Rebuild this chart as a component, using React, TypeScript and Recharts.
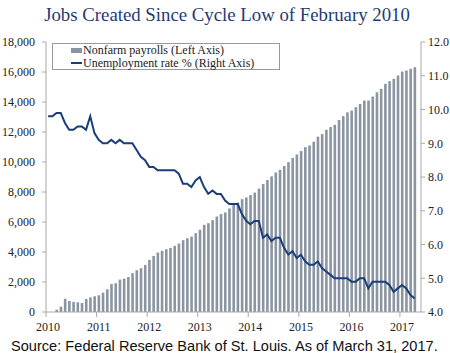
import React from "react";
import { ComposedChart, Bar, Line, XAxis, YAxis } from "recharts";

const MONTH_NAMES = ["Jan", "Feb", "Mar", "Apr", "May", "Jun", "Jul", "Aug", "Sep", "Oct", "Nov", "Dec"];
const YEARS = [2010, 2011, 2012, 2013, 2014, 2015, 2016, 2017];

// Jan 2010 .. May 2017
const MONTHS = YEARS.flatMap((y) => MONTH_NAMES.map((m) => `${m} ${y}`)).slice(0, 89);
const YEAR_TICKS = YEARS.map((y) => `Jan ${y}`);

// cumulative nonfarm payrolls since Feb 2010, thousands
const PAYROLLS: (number | null)[] = [
  null, 0, 150, 355, 890, 735, 670, 645, 600, 870, 980, 1050,
  1115, 1290, 1515, 1870, 1915, 2160, 2225, 2340, 2585, 2785, 2920, 3140,
  3475, 3740, 3965, 4075, 4185, 4275, 4410, 4565, 4790, 4920, 5030, 5255,
  5480, 5810, 5920, 6125, 6370, 6525, 6635, 6900, 7190, 7300, 7525, 7635,
  7795, 7960, 8230, 8530, 8800, 9040, 9300, 9480, 9730, 9990, 10270, 10500,
  10730, 10990, 11100, 11350, 11690, 11860, 12150, 12330, 12480, 12800, 13060, 13310,
  13430, 13650, 13870, 14095, 14100, 14360, 14650, 14875, 15210, 15385, 15545, 15765,
  16030, 16100, 16210, 16320, null,
];

// unemployment rate, %
const UNEMPLOYMENT: (number | null)[] = [
  9.8, 9.8, 9.9, 9.9, 9.6, 9.4, 9.4, 9.5, 9.5, 9.4, 9.8, 9.3,
  9.1, 9.0, 9.0, 9.1, 9.0, 9.1, 9.0, 9.0, 9.0, 8.8, 8.6, 8.5,
  8.3, 8.3, 8.2, 8.2, 8.2, 8.2, 8.2, 8.1, 7.8, 7.8, 7.7, 7.9,
  8.0, 7.7, 7.5, 7.6, 7.5, 7.5, 7.3, 7.2, 7.2, 7.2, 6.9, 6.7,
  6.6, 6.7, 6.7, 6.2, 6.3, 6.1, 6.2, 6.2, 5.9, 5.7, 5.8, 5.6,
  5.7, 5.5, 5.4, 5.4, 5.5, 5.3, 5.2, 5.1, 5.0, 5.0, 5.0, 5.0,
  4.9, 4.9, 5.0, 5.0, 4.7, 4.9, 4.9, 4.9, 4.9, 4.8, 4.6, 4.7,
  4.8, 4.7, 4.5, 4.4, null,
];

const LEFT_TICKS = [0, 2000, 4000, 6000, 8000, 10000, 12000, 14000, 16000, 18000];
const RIGHT_TICKS = [4, 5, 6, 7, 8, 9, 10, 11, 12];

const data = MONTHS.map((month, i) => ({
  month,
  payrolls: PAYROLLS[i],
  rate: UNEMPLOYMENT[i],
}));

const W = 450;
const H = 353;
const LEFT_W = 46;
const RIGHT_W = 29;
const BAND = (W - LEFT_W - RIGHT_W) / MONTHS.length;
const AXIS_COLOR = "#a8a8a8";
const SERIF = "'Liberation Serif', 'DejaVu Serif', serif";

function YearTick(props: any) {
  const { x, y, payload } = props;
  const axisY = y - 8;
  const edge = x - BAND / 2;
  return (
    <g>
      <line x1={edge} y1={axisY} x2={edge} y2={axisY + 5} stroke={AXIS_COLOR} />
      <text x={x} y={axisY + 19} textAnchor="middle" fontSize={12} fontFamily={SERIF} fill="#222">
        {String(payload.value).slice(4)}
      </text>
    </g>
  );
}

export default function App() {
  return (
    <div style={{ position: "absolute", left: 0, top: 0, width: W, height: H, background: "#fff" }}>
      <ComposedChart width={W} height={H} data={data} margin={{ top: 42, right: 0, bottom: 0, left: 0 }}>
        <XAxis
          dataKey="month"
          ticks={YEAR_TICKS}
          interval={0}
          height={41}
          tickSize={5}
          tickMargin={3}
          tickLine={false}
          axisLine={{ stroke: AXIS_COLOR }}
          tick={<YearTick />}
        />
        <YAxis
          yAxisId="left"
          width={LEFT_W}
          domain={[0, 18000]}
          ticks={LEFT_TICKS}
          interval={0}
          tickFormatter={(v: number) => v.toLocaleString("en-US")}
          tick={{ fontSize: 12, fill: "#222", fontFamily: SERIF }}
          tickSize={4}
          tickMargin={7}
          axisLine={{ stroke: AXIS_COLOR }}
          tickLine={{ stroke: AXIS_COLOR }}
        />
        <YAxis
          yAxisId="right"
          orientation="right"
          width={RIGHT_W}
          domain={[4, 12]}
          ticks={RIGHT_TICKS}
          interval={0}
          tickFormatter={(v: number) => v.toFixed(1)}
          tick={{ fontSize: 12, fill: "#222", fontFamily: SERIF, textAnchor: "start" }}
          tickSize={4}
          tickMargin={3}
          axisLine={{ stroke: AXIS_COLOR }}
          tickLine={{ stroke: AXIS_COLOR }}
        />
        <Bar yAxisId="left" dataKey="payrolls" fill="#8b95a1" barSize={2.6} isAnimationActive={false} />
        <Line
          yAxisId="right"
          type="linear"
          dataKey="rate"
          stroke="#1b3d7a"
          strokeWidth={2}
          dot={false}
          activeDot={false}
          isAnimationActive={false}
        />
      </ComposedChart>

      <div
        style={{
          position: "absolute",
          left: 52,
          top: 43,
          width: 228,
          height: 27,
          border: "1px solid #9a9a9a",
          background: "#fff",
          fontFamily: SERIF,
          fontSize: 12,
          color: "#222",
          lineHeight: "12.5px",
          boxSizing: "border-box",
          paddingLeft: 18,
          paddingTop: 0,
        }}
      >
        <div style={{ display: "flex", alignItems: "center", height: 12.5 }}>
          <span style={{ display: "inline-block", width: 11, height: 5, background: "#8b95a1", marginRight: 1 }} />
          <span>Nonfarm payrolls (Left Axis)</span>
        </div>
        <div style={{ display: "flex", alignItems: "center", height: 12.5 }}>
          <span style={{ display: "inline-block", width: 11, height: 2, background: "#1b3d7a", marginRight: 1 }} />
          <span>Unemployment rate % (Right Axis)</span>
        </div>
      </div>

      <svg width={W} height={H} style={{ position: "absolute", left: 0, top: 0, pointerEvents: "none" }}>
        <text x={227} y={21} textAnchor="middle" fontFamily={SERIF} fontSize={18.8} fill="#1f3b73">
          Jobs Created Since Cycle Low of February 2010
        </text>
        <text x={11} y={351} fontFamily="'Liberation Sans', Arial, sans-serif" fontSize={14.6} fill="#111">
          Source: Federal Reserve Bank of St. Louis. As of March 31, 2017.
        </text>
      </svg>
    </div>
  );
}
